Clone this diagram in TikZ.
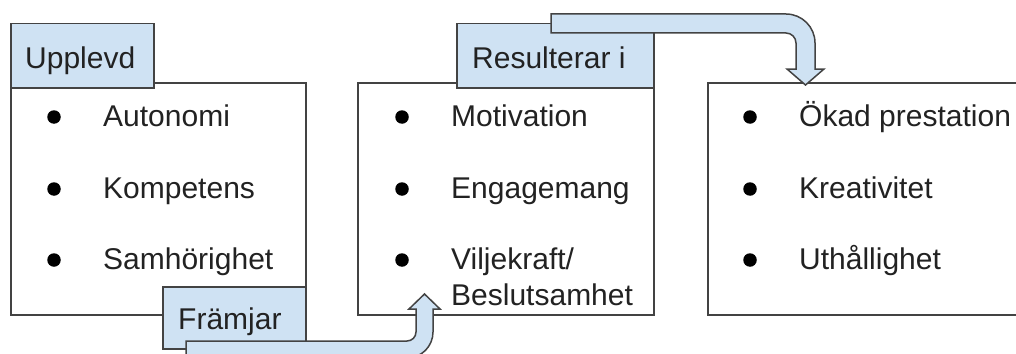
\documentclass[tikz,border=0pt]{standalone}
\usepackage{fontspec}
\setmainfont{Liberation Sans}
\definecolor{tabblue}{HTML}{CFE2F3}
\definecolor{edge}{HTML}{434343}
\definecolor{ink}{HTML}{222222}
\tikzset{
  panel/.style={draw=edge, line width=1.5pt, fill=white, rectangle, inner sep=0pt},
  tab/.style={draw=edge, line width=1.5pt, fill=tabblue, rectangle, inner sep=0pt},
  txt/.style={inner sep=0pt, text=ink, font=\fontsize{30}{36}\selectfont},
  dot/.style={fill=black, circle, inner sep=0pt, minimum size=13.5pt},
  blockarrow/.style={draw=edge, line width=1.5pt, fill=tabblue, line join=miter},
}
\begin{document}
\begin{tikzpicture}[x=1pt,y=-1pt]
\useasboundingbox (0,0) rectangle (1016,353);
\clip (0,0) rectangle (1016,353);
% panels
\node[panel, anchor=north west, minimum width=295pt, minimum height=232pt] (box1) at (10,82) {};
\node[panel, anchor=north west, minimum width=296pt, minimum height=232pt] (box2) at (357,82) {};
\node[panel, anchor=north west, minimum width=330pt, minimum height=232pt] (box3) at (707,82) {};
% tabs
\node[tab, anchor=north west, minimum width=143pt, minimum height=64pt] (tab1) at (10,23) {};
\node[txt, anchor=base west] (tab1t) at (25,68) {Upplevd};
\node[tab, anchor=north west, minimum width=143pt, minimum height=62pt] (tab2) at (162,286) {};
\node[txt, anchor=base west] (tab2t) at (178,329) {Främjar};
\node[tab, anchor=north west, minimum width=197pt, minimum height=64pt] (tab3) at (456,23) {};
\node[txt, anchor=base west] (tab3t) at (472,68) {Resulterar i};
% box 1 items
\node[dot] (b11) at (54,117) {};
\node[txt, anchor=base west] (i11) at (103,126) {Autonomi};
\node[dot] (b12) at (54,189) {};
\node[txt, anchor=base west] (i12) at (103,198) {Kompetens};
\node[dot] (b13) at (54,260) {};
\node[txt, anchor=base west] (i13) at (103,269) {Samhörighet};
% box 2 items
\node[dot] (b21) at (402,117) {};
\node[txt, anchor=base west] (i21) at (451,126) {Motivation};
\node[dot] (b22) at (402,189) {};
\node[txt, anchor=base west] (i22) at (451,198) {Engagemang};
\node[dot] (b23) at (402,260) {};
\node[txt, anchor=base west] (i23) at (451,269) {Viljekraft/};
\node[txt, anchor=base west] (i24) at (451,305) {Beslutsamhet};
% box 3 items
\node[dot] (b31) at (750,117) {};
\node[txt, anchor=base west] (i31) at (799,126) {Ökad prestation};
\node[dot] (b32) at (750,189) {};
\node[txt, anchor=base west] (i32) at (799,198) {Kreativitet};
\node[dot] (b33) at (750,260) {};
\node[txt, anchor=base west] (i33) at (799,269) {Uthållighet};
% block arrow 1: Främjar -> box 2
\draw[blockarrow] (186,341) -- (407,341)
  .. controls (412,341) and (416,337) .. (416,332)
  -- (416,309) -- (409,309) -- (424.5,294) -- (440,309) -- (433,309)
  -- (433,332) .. controls (433,346.4) and (421.4,358) .. (407,358)
  -- (186,358) -- cycle;
% block arrow 2: Resulterar i -> box 3
\draw[blockarrow] (551,14) -- (786,14)
  .. controls (802,14) and (815,27) .. (815,43)
  -- (815,69) -- (824,69) -- (805.5,85) -- (787,69) -- (796,69)
  -- (796,43) .. controls (796,37.5) and (791.5,33) .. (786,33)
  -- (551,33) -- cycle;
\end{tikzpicture}
\end{document}
